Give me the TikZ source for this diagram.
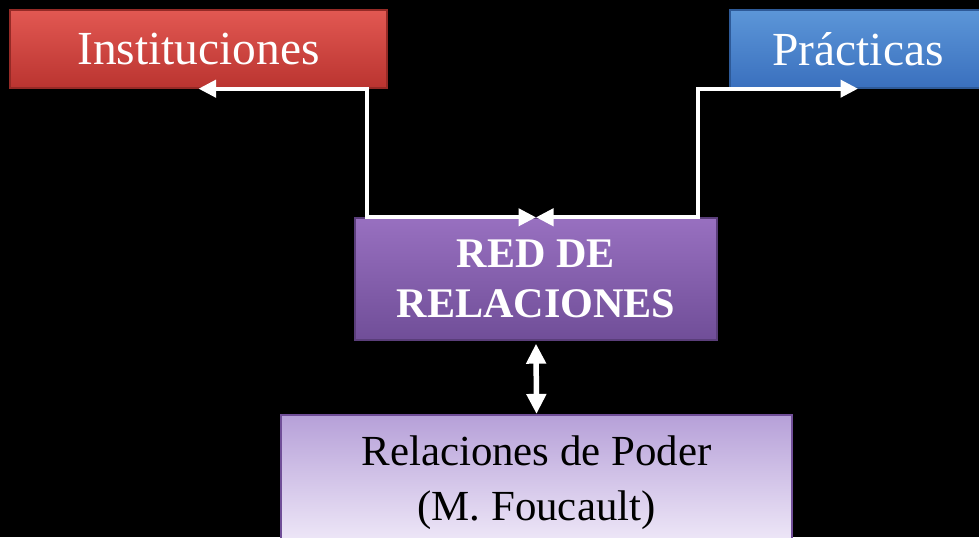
\documentclass[tikz,border=0pt]{standalone}
\usepackage{fontspec}
\setmainfont{Liberation Serif}
\usetikzlibrary{positioning, arrows.meta}

\definecolor{instTop}{RGB}{226,88,82}
\definecolor{instBot}{RGB}{186,52,48}
\definecolor{pracTop}{RGB}{92,150,216}
\definecolor{pracBot}{RGB}{58,112,190}
\definecolor{redTop}{RGB}{152,112,192}
\definecolor{redBot}{RGB}{112,78,152}
\definecolor{podTop}{RGB}{182,160,216}
\definecolor{podBot}{RGB}{242,236,250}

\begin{document}
\begin{tikzpicture}[
  box/.style={rectangle, align=center, text=white, line width=0.8pt},
  link/.style={<->, >={Triangle[length=0.35cm, width=0.34cm]}, draw=white, line width=0.08cm}
]
  \useasboundingbox (0,0) rectangle (19.58,10.74);
  \fill[black] (0,0) rectangle (19.58,10.74);
  \clip (0,0) rectangle (19.58,10.74);

  \node (inst) [box, minimum width=7.54cm, minimum height=1.56cm, top color=instTop, bottom color=instBot, draw=instBot!80!black, font=\fontsize{27}{32}\selectfont] at (3.97,9.76) {Instituciones};
  \node (prac) [box, minimum width=5.12cm, minimum height=1.56cm, top color=pracTop, bottom color=pracBot, draw=pracBot!80!black, font=\fontsize{27}{32}\selectfont] at (17.16,9.76) {Prácticas};
  \node (red) [box, minimum width=7.24cm, minimum height=2.44cm, top color=redTop, bottom color=redBot, draw=redBot!80!black, font=\fontsize{24}{28.5}\selectfont\bfseries] at (10.72,5.16) {RED DE\\ RELACIONES};
  \node (poder) [box, text=black, minimum width=10.22cm, minimum height=2.7cm, top color=podTop, bottom color=podBot, draw=redBot, line width=1.2pt, font=\fontsize{24.4}{31}\selectfont] at (10.73,1.09) {Relaciones de Poder\\ (M. Foucault)};

  \draw[link] (inst.south) -| ([xshift=0.26cm]red.north west) -- (red.north);
  \draw[link] (prac.south) -| ([xshift=-0.4cm]red.north east) -- (red.north);
  \draw[link, line width=0.11cm, >={Triangle[length=0.4cm, width=0.38cm]}, shorten <=0.06cm] (red.south) -- (poder.north);
\end{tikzpicture}
\end{document}
